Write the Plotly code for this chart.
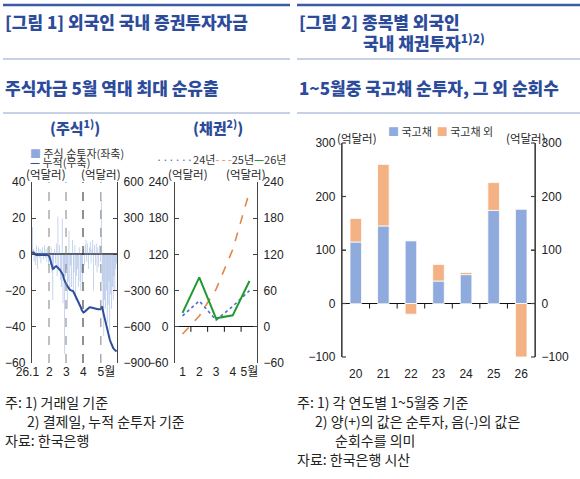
import plotly.graph_objects as go

W, H = 580, 479
def px(x): return x / W
def py(y): return 1 - y / H

# ---------------- data ----------------
# Fig 1 left: daily foreign stock net investment (left axis) and cumulative (right axis), 억달러
month_labels = ["26.1", "2", "3", "4", "5월"]
month_days = [20, 20, 20, 21, 19]
stock_daily = [
    # Jan
    15, 3, -4, 2, -6, 5, -8, 4, -2, 3, -5, 2, 4, -3, 5, -2, 3, -4, 4, -6,
    # Feb
    -3, -6, 4, -10, -25, -8, 3, -5, 6, -12, 21, -9, 5, -14, -18, 20, -27, -10, -55, -12,
    # Mar
    -8, -30, -15, 13, -20, -6, -18, 8, -22, -10, 5, -25, -12, -8, -18, 4, -15, -20, -10, -16,
    # Apr
    3, -6, 5, 8, -4, 6, -8, 4, 7, -5, 3, 8, -20, 5, -6, 6, -10, 4, -7, 5, -4,
    # May
    30, -15, -35, -45, -25, -30, -20, -38, -28, -15, -42, -22, -30, -18, -25, -12, -20, -8, -5,
]
stock_cum = [
    # Jan
    22, 20, 12, 2, -5, -6, -4, -5, -3, -4, -6, -5, -3, -4, -2, -3, -2, -4, -3, -8,
    # Feb
    -20, -45, -60, -95, -120, -118, -105, -100, -97, -102, -110, -118, -125, -135, -150, -162, -170, -200, -228, -235,
    # Mar
    -250, -262, -270, -285, -292, -296, -300, -304, -306, -320, -335, -348, -360, -372, -385, -403, -420, -440, -462, -478,
    # Apr
    -481, -478, -472, -462, -452, -447, -444, -440, -439, -440, -442, -444, -446, -448, -447, -450, -452, -455, -456, -458, -455,
    # May
    -440, -431, -470, -500, -540, -580, -610, -640, -665, -685, -705, -725, -745, -762, -775, -785, -792, -798, -805,
]

# Fig 1 right: cumulative bond net investment by month, 억달러
bond_months = ["1", "2", "3", "4", "5월"]
bond_24 = [18, 43, 11, 34, 60]
bond_25 = [-12, 18, 62, 128, 224]
bond_26 = [23, 82, 14, 19, 76]

# Fig 2: Jan-May net bond investment by type, 억달러
years = ["20", "21", "22", "23", "24", "25", "26"]
ktb = [115, 145, 117, 42, 54, 174, 176]
non_ktb = [44, 115, -20, 31, 4, 52, -100]
fig2_ticks = [-100, 0, 100, 200, 300]

# ---------------- styles ----------------
NAVY = "#2C4B9B"
TICKF = dict(family="Liberation Sans, Noto Sans CJK KR", size=12, color="#222")
KFONT = "Noto Sans CJK KR"
AXC = "#444"
NB = "\u00a0"

month_start = [0]
for d in month_days[:-1]:
    month_start.append(month_start[-1] + d)
# last label: digit sits under its divider; first label nudged left of the axis
label_pos = month_start[:-1] + [month_start[-1] + 6]
label_txt = [month_labels[0] + NB * 3] + month_labels[1:]
day_idx = list(range(len(stock_daily)))

fig = go.Figure()

# ---- panel 1: stocks ----
fig.add_trace(go.Bar(x=day_idx, y=stock_daily, xaxis="x", yaxis="y",
                     marker=dict(color="rgba(130,160,218,0.75)", line=dict(width=0)),
                     width=0.7, showlegend=False, hoverinfo="skip"))
fig.add_trace(go.Scatter(x=day_idx, y=stock_cum, xaxis="x", yaxis="y2", mode="lines",
                         line=dict(color="#2E4D9B", width=2), showlegend=False))

# ---- panel 2: bonds lines ----
bx = list(range(1, len(bond_months) + 1))
fig.add_trace(go.Scatter(x=bx, y=bond_24, xaxis="x3", yaxis="y3", mode="lines",
                         line=dict(color="#4A6CC4", width=1.6, dash="dot"), showlegend=False))
fig.add_trace(go.Scatter(x=bx, y=bond_25, xaxis="x3", yaxis="y4", mode="lines",
                         line=dict(color="#E0874A", width=1.6, dash="dash"), showlegend=False))
fig.add_trace(go.Scatter(x=bx, y=bond_26, xaxis="x3", yaxis="y4", mode="lines",
                         line=dict(color="#1F9A2F", width=2), showlegend=False))

# ---- panel 3: stacked bars ----
fig.add_trace(go.Bar(x=years, y=ktb, xaxis="x5", yaxis="y5", width=0.42,
                     marker=dict(color="#8FAADC", line=dict(color="white", width=0.8)),
                     showlegend=False))
fig.add_trace(go.Bar(x=years, y=non_ktb, xaxis="x5", yaxis="y5", width=0.42,
                     marker=dict(color="#F4B183", line=dict(color="white", width=0.8)),
                     showlegend=False))
fig.add_trace(go.Scatter(x=years, y=ktb, xaxis="x5", yaxis="y6", mode="markers",
                         marker=dict(size=1, opacity=0), showlegend=False, hoverinfo="skip"))

def yax(**kw):
    d = dict(showgrid=False, showline=True, linecolor=AXC, linewidth=1.3,
             ticks="inside", ticklen=4, tickcolor=AXC, tickfont=TICKF,
             zeroline=False, fixedrange=True, ticklabelstandoff=3, automargin=False)
    d.update(kw)
    return d

def xax(**kw):
    d = dict(showgrid=False, showline=False, ticks="", zeroline=False,
             tickfont=TICKF, fixedrange=True, tickangle=0, automargin=False)
    d.update(kw)
    return d

dom1 = [py(363), py(182)]
dom3 = [py(357), py(143)]
r3 = [-100, 300]
xd3 = [px(342), px(535)]
fig.update_layout(
    width=W, height=H, margin=dict(l=0, r=0, t=0, b=0, autoexpand=False),
    paper_bgcolor="white", plot_bgcolor="white",
    barmode="relative", showlegend=False,
    xaxis=xax(domain=[px(32), px(117)], range=[-0.5, len(stock_daily) - 0.5],
              tickmode="array", tickvals=label_pos, ticktext=label_txt, anchor="y"),
    yaxis=yax(domain=dom1, range=[-60, 40], dtick=20, anchor="x",
              zeroline=True, zerolinecolor="#555", zerolinewidth=1.5),
    yaxis2=yax(overlaying="y", side="right", range=[-900, 600], dtick=300, anchor="x"),
    xaxis3=xax(domain=[px(175), px(257)], range=[0.55, 5.45], tickmode="array",
               tickvals=bx, ticktext=bond_months, anchor="y3"),
    yaxis3=yax(domain=dom1, range=[-60, 240], dtick=60, anchor="x3",
               zeroline=True, zerolinecolor="#111", zerolinewidth=1.2),
    yaxis4=yax(overlaying="y3", side="right", range=[-60, 240], dtick=60, anchor="x3"),
    xaxis5=xax(domain=xd3, type="category", range=[-0.5, 6.5],
               anchor="y5", ticklabelstandoff=8),
    yaxis5=yax(domain=dom3, range=r3, tickmode="array", tickvals=fig2_ticks, anchor="x5",
               zeroline=True, zerolinecolor="#111", zerolinewidth=1.2,
               ticksuffix=NB * 4),
    yaxis6=yax(overlaying="y5", side="right", range=r3, tickmode="array",
               tickvals=fig2_ticks, anchor="x5", tickprefix=NB * 4),
)

shapes = []
def L(x0, y0, x1, y1, color, width, dash=None):
    ln = dict(color=color, width=width)
    if dash:
        ln["dash"] = dash
    shapes.append(dict(type="line", xref="paper", yref="paper",
                       x0=x0, y0=y0, x1=x1, y1=y1, line=ln))

# header rules
for x0, x1 in [(3, 290), (297, 580)]:
    L(px(x0), py(5), px(x1), py(5), "#3B5BA5", 2.5)
    for yy in (59, 113):
        L(px(x0), py(yy), px(x1), py(yy), "#8DA3CF", 1)

# panel 3 axis lines and inward ticks (paper coords, from the axis domain/range)
def y3p(v):
    return dom3[0] + (v - r3[0]) / (r3[1] - r3[0]) * (dom3[1] - dom3[0])
L(xd3[0], dom3[0], xd3[0], dom3[1], AXC, 1.3)
L(xd3[1], dom3[0], xd3[1], dom3[1], AXC, 1.3)
tk = 4 / W
for v in fig2_ticks:
    L(xd3[0], y3p(v), xd3[0] + tk, y3p(v), AXC, 1.2)
    L(xd3[1] - tk, y3p(v), xd3[1], y3p(v), AXC, 1.2)
# category boundary ticks below the zero line of panel 3
cw = (xd3[1] - xd3[0]) / len(years)
for i in range(1, len(years)):
    L(xd3[0] + i * cw, y3p(0), xd3[0] + i * cw, y3p(0) - 5 / H, "#111", 1)

# month dividers (panel 1)
for i, s in enumerate(month_start[1:]):
    col = "#222" if i == 2 else "#808080"
    shapes.append(dict(type="line", xref="x", yref="y domain", x0=s - 0.5, x1=s - 0.5,
                       y0=0, y1=1, line=dict(color=col, width=1, dash="dash")))
# category boundary ticks on panel 2 zero line
for i in range(len(bond_months) - 1):
    shapes.append(dict(type="line", xref="x3", yref="y3", x0=bx[i] + 0.5, x1=bx[i] + 0.5,
                       ysizemode="pixel", yanchor=0, y0=0, y1=-5,
                       line=dict(color="#111", width=1)))
fig.update_layout(shapes=shapes)

ann = []
def A(text, x, y, size=12, color="#222", xanchor="left", weight=None, family=KFONT):
    f = dict(family=family, size=size, color=color)
    if weight:
        f["weight"] = weight
    ann.append(dict(text=text, x=px(x), y=py(y), xref="paper", yref="paper",
                    xanchor=xanchor, yanchor="middle", showarrow=False, font=f))

# titles
A("[그림 1] 외국인 국내 증권투자자금", 3, 22, 17, NAVY, weight=800)
A("[그림 2] 종목별 외국인", 297, 22, 17, NAVY, weight=800)
A("국내 채권투자<sup>1)2)</sup>", 361, 42, 17, NAVY, weight=800)
A("주식자금 5월 역대 최대 순유출", 3, 87, 17, NAVY, weight=800)
A("1~5월중 국고채 순투자, 그 외 순회수", 297, 87, 17, NAVY, weight=800)
A("(주식<sup>1)</sup>)", 75, 127, 15, NAVY, xanchor="center", weight=800)
A("(채권<sup>2)</sup>)", 218, 127, 15, NAVY, xanchor="center", weight=800)

# unit labels
for x, y in [(46, 174), (101, 174), (188, 174), (246, 174), (357, 138), (526, 138)]:
    A("(억달러)", x, y, 11.5, "#222", xanchor="center")

# legends
A("<span style='color:#8EA9DB'>■</span> 주식 순투자(좌축)", 28, 153, 11, "#333")
A("<span style='color:#2E4D9B'><b>—</b></span> 누적(우축)", 28, 162, 11, "#333")
A("<span style='color:#4A6CC4'>······</span>24년"
  "<span style='color:#E0874A'>- - -</span>25년"
  "<span style='color:#1F9A2F'><b>—</b></span>26년", 221, 159, 11, "#333", xanchor="center")
A("<span style='color:#8FAADC'>■</span> 국고채  <span style='color:#F4B183'>■</span> 국고채 외",
  440, 131, 11, "#333", xanchor="center")

# notes
A("주: 1) 거래일 기준", 3, 402, 14)
A("2) 결제일, 누적 순투자 기준", 25, 421, 14)
A("자료: 한국은행", 3, 440, 14)
A("주: 1) 각 연도별 1~5월중 기준", 295, 402, 14)
A("2) 양(+)의 값은 순투자, 음(-)의 값은", 313, 421, 14)
A("순회수를 의미", 333, 440, 14)
A("자료: 한국은행 시산", 295, 459, 14)

fig.update_layout(annotations=ann)
fig.write_html("out.html", config={"displayModeBar": False},
               post_script="document.body.style.margin='0';document.body.style.overflow='hidden';")
